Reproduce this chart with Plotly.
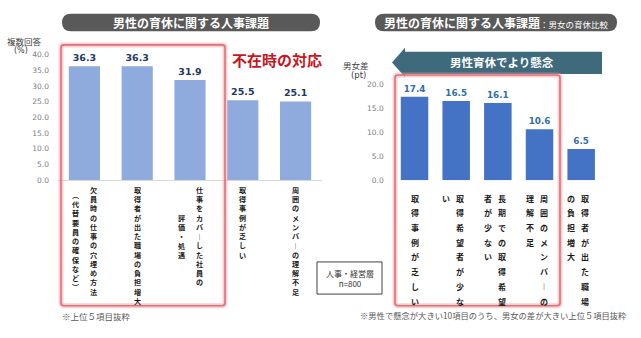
import plotly.graph_objects as go

# ---------------- data ----------------
left_categories = ["欠員時の仕事の穴埋め方法（代替要員の確保など）", "取得者が出た職場の負担増大",
                   "仕事をカバーした社員の評価・処遇", "取得事例が乏しい", "周囲のメンバーの理解不足"]
left_label_cols = [["欠員時の仕事の穴埋め方法", "（代替要員の確保など）"],
                   ["取得者が出た職場の負担増大"],
                   ["仕事をカバーした社員の", "評価・処遇"],
                   ["取得事例が乏しい"],
                   ["周囲のメンバーの理解不足"]]
left_values = [36.3, 36.3, 31.9, 25.5, 25.1]
left_ticks = [0, 5, 10, 15, 20, 25, 30, 35, 40]

right_categories = ["取得事例が乏しい", "取得希望者が少ない", "長期での取得希望者が少ない",
                    "周囲のメンバーの理解不足", "取得者が出た職場の負担増大"]
right_label_cols = [["取得事例が乏しい"],
                    ["取得希望者が少な", "い"],
                    ["長期での取得希望", "者が少ない"],
                    ["周囲のメンバーの", "理解不足"],
                    ["取得者が出た職場", "の負担増大"]]
right_values = [17.4, 16.5, 16.1, 10.6, 6.5]
right_ticks = [0, 5, 10, 15, 20]

W, H = 641, 338
def px(x): return x / W
def py(y): return 1 - y / H

JP = "Noto Sans CJK JP"
NUM = "DejaVu Sans"

fig = go.Figure()
fig.add_trace(go.Bar(x=left_categories, y=left_values, xaxis="x", yaxis="y", width=0.59,
                     marker=dict(color="#8FAADC", line=dict(width=0)),
                     texttemplate="%{y:.1f}", textposition="outside", cliponaxis=False,
                     textfont=dict(family=NUM, size=9.5, color="#1F3864", weight="bold"),
                     hoverinfo="skip"))
fig.add_trace(go.Bar(x=right_categories, y=right_values, xaxis="x2", yaxis="y2", width=0.66,
                     marker=dict(color="#4472C4", line=dict(width=0)),
                     texttemplate="%{y:.1f}", textposition="outside", cliponaxis=False,
                     textfont=dict(family=NUM, size=8.8, color="#2F6EA8", weight="bold"),
                     hoverinfo="skip"))

tickfont = dict(family=NUM, size=7.5, color="#808080")
fig.update_layout(
    width=W, height=H, autosize=False, margin=dict(l=0, r=0, t=0, b=0),
    paper_bgcolor="white", plot_bgcolor="white", showlegend=False,
    xaxis=dict(domain=[px(58), px(322)], showticklabels=False, ticks="", showgrid=False,
               showline=True, linecolor="#D9D9D9", linewidth=1, anchor="y"),
    yaxis=dict(domain=[py(181), py(52)], range=[0, 40], tickvals=left_ticks, tickformat=".1f",
               showgrid=False, zeroline=False, ticks="", tickfont=tickfont,
               ticklabelstandoff=8, anchor="x"),
    xaxis2=dict(domain=[px(393.7), px(602)], showticklabels=False, ticks="", showgrid=False,
                showline=False, anchor="y2"),
    yaxis2=dict(domain=[py(181), py(82.4)], range=[0, 20], tickvals=right_ticks, tickformat=".1f",
                showgrid=False, zeroline=False, ticks="", tickfont=tickfont,
                ticklabelstandoff=9, anchor="x2"),
)

VERT = {"（": "︵", "）": "︶", "ー": "︱"}
def vtext(s):
    return "<br>".join(VERT.get(ch, ch) for ch in s)

annotations = []

# left chart: one annotation per column (line spacing = 1.3 * size), columns centred on each other
LSIZE = 7.1
lstep = LSIZE * 1.3
loffs = {1: [0], 2: [9.5, -8.5]}
for cat, cols in zip(left_categories, left_label_cols):
    maxlen = max(len(c) for c in cols)
    for j, col in enumerate(cols):
        annotations.append(dict(
            x=cat, y=0, xref="x", yref="y", text=vtext(col), showarrow=False,
            xanchor="center", yanchor="middle", xshift=loffs[len(cols)][j],
            yshift=-(10 + (maxlen - 1) / 2 * lstep),
            font=dict(family=JP, size=LSIZE, color="#1A1A1A", weight="bold")))

# right chart: wide letter spacing -> one annotation per character, columns top aligned
roffs = {1: [0], 2: [4, -10]}
for cat, cols in zip(right_categories, right_label_cols):
    for j, col in enumerate(cols):
        for k, ch in enumerate(col):
            annotations.append(dict(
                x=cat, y=0, xref="x2", yref="y2", text=VERT.get(ch, ch), showarrow=False,
                xanchor="center", yanchor="middle", xshift=roffs[len(cols)][j],
                yshift=-(18 + k * 14.7),
                font=dict(family=JP, size=8, color="#1A1A1A", weight="bold")))

def pa(x, y, text, size, color="#333333", weight="normal", xanchor="center", family=JP):
    annotations.append(dict(x=px(x), y=py(y), xref="paper", yref="paper", text=text,
                            showarrow=False, xanchor=xanchor, yanchor="middle",
                            font=dict(family=family, size=size, color=color, weight=weight)))

# titles
pa(191, 19, "男性の育休に関する人事課題", 12, "white", "bold")
pa(496, 19, "男性の育休に関する人事課題<span style='font-size:8.5px;font-weight:normal'>：男女の育休比較</span>",
   12, "white", "bold")
# axis titles
pa(24, 38, "複数回答", 8.5, "#404040")
pa(21, 48, "(%)", 8, "#404040", family=NUM)
pa(356, 63, "男女差", 8.5, "#404040")
pa(358, 73, "(pt)", 8.5, "#404040", family=NUM)
# highlights
pa(277, 57, "不在時の対応", 15, "#C8161E", "bold")
pa(502, 60, "男性育休でより懸念", 11.5, "white", "bold")
pa(349.5, 281.5, "人事・経営層<br>n=800", 8, "#333333")
# notes
pa(60, 321, "※上位５項目抜粋", 8.5, "#595959", xanchor="left")
pa(358, 320, "※男性で懸念が大きい10項目のうち、男女の差が大きい上位５項目抜粋", 8.3, "#595959", xanchor="left")

fig.update_layout(annotations=annotations)

def rounded(x0, y0, x1, y1, r):
    X0, X1 = px(x0), px(x1)
    Y0, Y1 = py(y0), py(y1)
    rx, ry = r / W, r / H
    return (f"M{X0+rx},{Y0} L{X1-rx},{Y0} Q{X1},{Y0} {X1},{Y0-ry} L{X1},{Y1+ry} Q{X1},{Y1} {X1-rx},{Y1} "
            f"L{X0+rx},{Y1} Q{X0},{Y1} {X0},{Y1+ry} L{X0},{Y0-ry} Q{X0},{Y0} {X0+rx},{Y0} Z")

shapes = []
# title pills
shapes.append(dict(type="path", xref="paper", yref="paper", path=rounded(62, 10, 320, 28, 9),
                   fillcolor="#595959", line=dict(width=0), layer="below"))
shapes.append(dict(type="path", xref="paper", yref="paper", path=rounded(375, 10, 617, 28, 9),
                   fillcolor="#595959", line=dict(width=0), layer="below"))
# arrow
ax = [392, 405, 405, 602, 602, 405, 405]
ay = [60, 45, 49, 49, 72, 72, 75]
path = "M" + " L".join(f"{px(a)},{py(b)}" for a, b in zip(ax, ay)) + " Z"
shapes.append(dict(type="path", xref="paper", yref="paper", path=path,
                   fillcolor="#3E6A7C", line=dict(width=0), layer="below"))
# red highlight boxes (glow + line)
for (x0, y0, x1, y1) in [(61, 42, 225, 310), (395, 73, 560, 310)]:
    shapes.append(dict(type="path", xref="paper", yref="paper", path=rounded(x0, y0, x1, y1, 3),
                       line=dict(color="rgba(240,150,155,0.45)", width=5), fillcolor="rgba(0,0,0,0)",
                       layer="above"))
    shapes.append(dict(type="path", xref="paper", yref="paper", path=rounded(x0, y0, x1, y1, 3),
                       line=dict(color="#E0707A", width=1.6), fillcolor="rgba(0,0,0,0)", layer="above"))
# n=800 box
shapes.append(dict(type="rect", xref="paper", yref="paper", x0=px(317), x1=px(382), y0=py(298), y1=py(265),
                   line=dict(color="#404040", width=1), fillcolor="white", layer="below"))
fig.update_layout(shapes=shapes)

fig.write_html("out.html")
